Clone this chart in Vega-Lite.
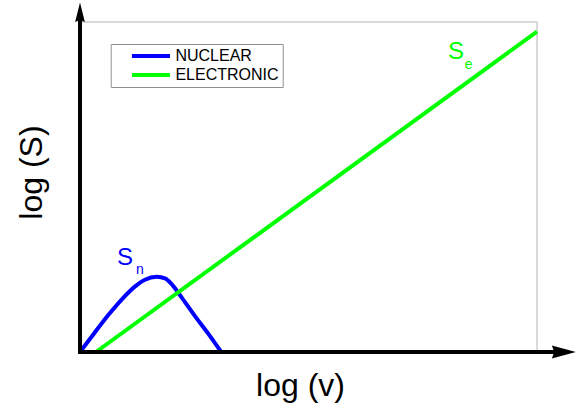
{
  "$schema": "https://vega.github.io/schema/vega-lite/v6.json",
  "width": 496,
  "height": 348,
  "autosize": "none",
  "padding": {"left": 80, "top": 4, "right": 9, "bottom": 57},
  "background": "white",
  "config": {
    "view": {"stroke": null},
    "font": "Liberation Sans",
    "legend": {
      "orient": "none",
      "legendX": 30.7,
      "legendY": 40,
      "strokeColor": "#909090",
      "fillColor": "white",
      "padding": 4,
      "symbolType": "M-4,0 L4,0",
      "symbolSize": 90.25,
      "symbolStrokeWidth": 4,
      "symbolFillColor": "transparent",
      "symbolOffset": 28.25,
      "labelOffset": 16.5,
      "labelFont": "Liberation Sans",
      "labelFontSize": 16,
      "labelColor": "black",
      "rowPadding": 3,
      "title": null
    }
  },
  "datasets": {
    "curves": [
      {"series": "NUCLEAR", "x": 0, "y": 0},
      {"series": "NUCLEAR", "x": 3.28, "y": 6.0},
      {"series": "NUCLEAR", "x": 6.19, "y": 11.2},
      {"series": "NUCLEAR", "x": 9.12, "y": 15.9},
      {"series": "NUCLEAR", "x": 12.0, "y": 19.8},
      {"series": "NUCLEAR", "x": 14.2, "y": 21.9},
      {"series": "NUCLEAR", "x": 16.8, "y": 22.8},
      {"series": "NUCLEAR", "x": 18.6, "y": 22.3},
      {"series": "NUCLEAR", "x": 20.1, "y": 20.5},
      {"series": "NUCLEAR", "x": 22.3, "y": 16.4},
      {"series": "NUCLEAR", "x": 25.2, "y": 10.8},
      {"series": "NUCLEAR", "x": 28.1, "y": 5.5},
      {"series": "NUCLEAR", "x": 30.9, "y": 0},
      {"series": "ELECTRONIC", "x": 3.5, "y": 0},
      {"series": "ELECTRONIC", "x": 100, "y": 97.1}
    ],
    "frame": [
      {"x": 0, "x2": 100, "y": 100, "y2": 100},
      {"x": 100, "x2": 100, "y": 0, "y2": 100}
    ],
    "axes": [
      {"x": -0.4, "x2": 104.5, "y": 0, "y2": 0},
      {"x": 0, "x2": 0, "y": -0.6, "y2": 103}
    ],
    "arrowRight": [{"x": 108.5, "y": 0}],
    "arrowUp": [{"x": 0, "y": 105.9}],
    "bigLabels": [
      {"series": "NUCLEAR", "t": "S", "x": 8.1, "y": 26.5},
      {"series": "ELECTRONIC", "t": "S", "x": 80.5, "y": 88.8}
    ],
    "subLabels": [
      {"series": "NUCLEAR", "t": "n", "x": 12.25, "y": 23.5},
      {"series": "ELECTRONIC", "t": "e", "x": 84.2, "y": 85.8}
    ]
  },
  "encoding": {
    "x": {
      "field": "x",
      "type": "quantitative",
      "scale": {"domain": [0, 108.53], "nice": false, "zero": false},
      "title": "log (v)",
      "axis": {
        "domain": false, "ticks": false, "labels": false, "grid": false,
        "title": "log (v)",
        "titleFont": "Liberation Sans", "titleFontSize": 32, "titleFontWeight": "normal",
        "titleColor": "black",
        "titleX": 220, "titleY": 43, "titleBaseline": "alphabetic", "titleAlign": "center"
      }
    },
    "y": {
      "field": "y",
      "type": "quantitative",
      "scale": {"domain": [0, 105.45], "nice": false, "zero": false},
      "title": "log (S)",
      "axis": {
        "domain": false, "ticks": false, "labels": false, "grid": false,
        "title": "log (S)",
        "titleFont": "Liberation Sans", "titleFontSize": 32, "titleFontWeight": "normal",
        "titleColor": "black",
        "titleX": -39, "titleY": 168, "titleBaseline": "alphabetic", "titleAlign": "center", "titleAngle": -90
      }
    }
  },
  "layer": [
    {
      "data": {"name": "frame"},
      "mark": {"type": "rule", "color": "#b4b4b4", "strokeWidth": 1},
      "encoding": {"x2": {"field": "x2"}, "y2": {"field": "y2"}}
    },
    {
      "data": {"name": "curves"},
      "mark": {"type": "line", "strokeWidth": 4, "interpolate": "monotone", "strokeCap": "butt"},
      "encoding": {
        "color": {
          "field": "series",
          "type": "nominal",
          "scale": {"domain": ["NUCLEAR", "ELECTRONIC"], "range": ["#0000ff", "#00ff00"]},
          "sort": ["NUCLEAR", "ELECTRONIC"],
          "legend": {"title": null}
        }
      }
    },
    {
      "data": {"name": "axes"},
      "mark": {"type": "rule", "color": "black", "strokeWidth": 4},
      "encoding": {"x2": {"field": "x2"}, "y2": {"field": "y2"}}
    },
    {
      "data": {"name": "arrowRight"},
      "mark": {"type": "point", "filled": true, "color": "black", "opacity": 1, "strokeWidth": 0, "size": 576, "shape": "M0,0 L-2,-0.55 L-1.8,0 L-2,0.55 Z"}
    },
    {
      "data": {"name": "arrowUp"},
      "mark": {"type": "point", "filled": true, "color": "black", "opacity": 1, "strokeWidth": 0, "size": 380, "shape": "M0,0 L-0.5,2 L0,1.8 L0.5,2 Z"}
    },
    {
      "data": {"name": "bigLabels"},
      "mark": {"type": "text", "font": "Liberation Sans", "fontSize": 24, "align": "left", "baseline": "alphabetic"},
      "encoding": {
        "text": {"field": "t"},
        "color": {"condition": {"test": "datum.series === 'NUCLEAR'", "value": "#0000ff"}, "value": "#00ff00"}
      }
    },
    {
      "data": {"name": "subLabels"},
      "mark": {"type": "text", "font": "Liberation Sans", "fontSize": 14, "align": "left", "baseline": "alphabetic"},
      "encoding": {
        "text": {"field": "t"},
        "color": {"condition": {"test": "datum.series === 'NUCLEAR'", "value": "#0000ff"}, "value": "#00ff00"}
      }
    }
  ]
}
